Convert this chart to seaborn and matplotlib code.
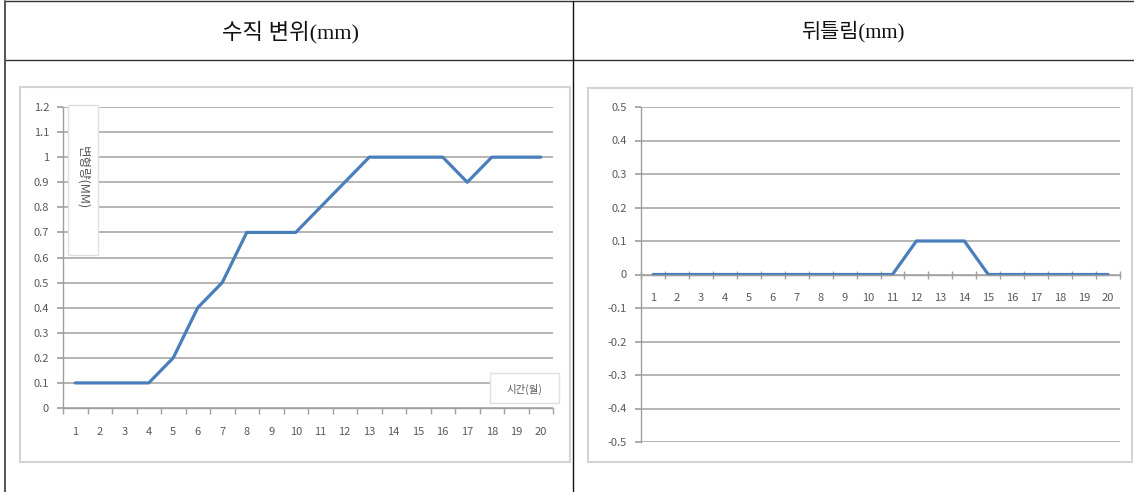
import matplotlib
matplotlib.use("Agg")
import matplotlib.pyplot as plt
from matplotlib.patches import Rectangle
from matplotlib.lines import Line2D
import seaborn as sns
import pandas as pd

sns.set_theme(style="white")
plt.rcParams['font.family'] = ['Noto Sans CJK KR', 'DejaVu Sans']

# ---------------- data ----------------
months = list(range(1, 21))
vertical_disp = [0.1, 0.1, 0.1, 0.1, 0.2, 0.4, 0.5, 0.7, 0.7, 0.7,
                 0.8, 0.9, 1.0, 1.0, 1.0, 1.0, 0.9, 1.0, 1.0, 1.0]
twist = [0, 0, 0, 0, 0, 0, 0, 0, 0, 0,
         0, 0.1, 0.1, 0.1, 0, 0, 0, 0, 0, 0]
left_yticks = [0, 0.1, 0.2, 0.3, 0.4, 0.5, 0.6, 0.7, 0.8, 0.9, 1.0, 1.1, 1.2]
left_ylabels = ["0", "0.1", "0.2", "0.3", "0.4", "0.5", "0.6", "0.7", "0.8", "0.9", "1", "1.1", "1.2"]
right_yticks = [-0.5, -0.4, -0.3, -0.2, -0.1, 0, 0.1, 0.2, 0.3, 0.4, 0.5]
right_ylabels = ["-0.5", "-0.4", "-0.3", "-0.2", "-0.1", "0", "0.1", "0.2", "0.3", "0.4", "0.5"]
header_left = "수직 변위(mm)"
header_right = "뒤틀림(mm)"
ylabel_left = "변형량(MM)"
xlabel_left = "시간(월)"

W, H = 1134, 492
fig = plt.figure(figsize=(W / 100, H / 100), dpi=100)
fig.patch.set_facecolor("white")

def fx(px):
    return px / W

def fy(py):
    return 1 - py / H

def ax_rect(x0, x1, ytop, ybot):
    return [fx(x0), fy(ybot), fx(x1) - fx(x0), fy(ytop) - fy(ybot)]

# ---------------- table lines ----------------
tbl_color = "#333333"
fig.add_artist(Line2D([fx(5), fx(1134)], [fy(1), fy(1)], color=tbl_color, lw=1.0))
fig.add_artist(Line2D([fx(5), fx(1134)], [fy(60), fy(60)], color=tbl_color, lw=1.0))
fig.add_artist(Line2D([fx(5), fx(5)], [fy(1), fy(492)], color="#555555", lw=1.4))
fig.add_artist(Line2D([fx(573), fx(573)], [fy(1), fy(492)], color="#111111", lw=1.0))

hdr_font = ['Liberation Serif', 'Noto Sans CJK KR']
fig.text(fx(290), fy(32), header_left, ha="center", va="center", fontsize=16,
         family=hdr_font, color="#111111", fontweight="light")
fig.text(fx(853), fy(32), header_right, ha="center", va="center", fontsize=15,
         family=hdr_font, color="#111111", fontweight="light")

# ---------------- chart frames ----------------
frame_col = "#d4d4d4"
fig.add_artist(Rectangle((fx(20), fy(462)), fx(570) - fx(20), fy(87) - fy(462),
                         transform=fig.transFigure, facecolor="white",
                         edgecolor=frame_col, lw=1.5, zorder=-1))
fig.add_artist(Rectangle((fx(588), fy(462)), fx(1132) - fx(588), fy(88) - fy(462),
                         transform=fig.transFigure, facecolor="white",
                         edgecolor=frame_col, lw=1.5, zorder=-1))

line_col = "#4a7ebb"
grid_col = "#a0a0a0"
tick_col = "#595959"
tick_fs = 8

def style_axes(ax):
    ax.set_facecolor("none")
    for s in ["top", "right"]:
        ax.spines[s].set_visible(False)
    ax.spines["left"].set_color(grid_col)
    ax.spines["bottom"].set_color(grid_col)
    ax.spines["left"].set_linewidth(1.0)
    ax.spines["bottom"].set_linewidth(1.0)
    ax.grid(axis="y", color=grid_col, lw=1.1)
    ax.grid(axis="x", visible=False)
    ax.set_axisbelow(True)
    ax.set_xlabel("")
    ax.set_ylabel("")
    ax.set_xlim(0.5, 20.5)
    ax.set_xticks(months)
    ax.set_xticklabels([str(m) for m in months])
    ax.set_xticks([m + 0.5 for m in range(0, 21)], minor=True)
    ax.tick_params(axis="x", which="major", length=0, labelsize=tick_fs, labelcolor=tick_col)
    ax.tick_params(axis="y", which="major", length=4, color=grid_col, direction="out",
                   labelsize=tick_fs, labelcolor=tick_col, pad=6)
    ax.tick_params(left=True)

# ---------------- left chart ----------------
axL = fig.add_axes(ax_rect(63, 553, 107, 408))
dfL = pd.DataFrame({"month": months, "value": vertical_disp})
sns.lineplot(data=dfL, x="month", y="value", ax=axL, color=line_col, lw=2.3)
style_axes(axL)
axL.set_ylim(0, 1.2)
axL.set_yticks(left_yticks)
axL.set_yticklabels(left_ylabels)
axL.tick_params(axis="x", which="minor", length=4, color=grid_col, direction="out", bottom=True)
axL.tick_params(axis="x", which="major", pad=14)

# y-label box
fig.add_artist(Rectangle((fx(68), fy(255)), fx(98) - fx(68), fy(105) - fy(255),
                         transform=fig.transFigure, facecolor="white",
                         edgecolor="#e0e0e0", lw=1.0, zorder=3))
fig.text(fx(83), fy(178), ylabel_left, rotation=270, ha="center", va="center",
         fontsize=9, color=tick_col, zorder=4)
# x-label box
fig.add_artist(Rectangle((fx(490), fy(403)), fx(559) - fx(490), fy(373) - fy(403),
                         transform=fig.transFigure, facecolor="white",
                         edgecolor="#e0e0e0", lw=1.0, zorder=3))
fig.text(fx(524), fy(389), xlabel_left, ha="center", va="center",
         fontsize=7.5, color=tick_col, zorder=4)

# ---------------- right chart ----------------
axR = fig.add_axes(ax_rect(641, 1120, 107, 442))
dfR = pd.DataFrame({"month": months, "value": twist})
sns.lineplot(data=dfR, x="month", y="value", ax=axR, color=line_col, lw=2.3)
style_axes(axR)
axR.set_ylim(-0.5, 0.5)
axR.set_yticks(right_yticks)
axR.set_yticklabels(right_ylabels)
axR.spines["bottom"].set_position(("data", 0))
axR.tick_params(axis="x", which="minor", length=6, color=grid_col, direction="inout", bottom=True)
axR.tick_params(axis="x", which="major", pad=13)

fig.savefig("out.png", dpi=100, facecolor="white")
